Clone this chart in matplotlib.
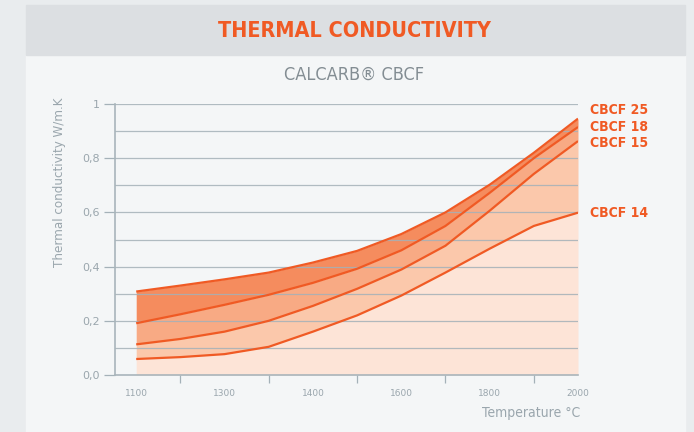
import numpy as np
import matplotlib
matplotlib.use("Agg")
from matplotlib import pyplot as plt
from matplotlib.patches import Rectangle

# temperature labels (drawn equally spaced, as in the source chart)
temp_labels = ['1100', '1300', '1400', '1600', '1800', '2000']
# readings at every half step between labelled temperatures
pos = [0, 0.5, 1, 1.5, 2, 2.5, 3, 3.5, 4, 4.5, 5]
cbcf25 = [0.308, 0.330, 0.353, 0.378, 0.415, 0.458, 0.520, 0.600, 0.702, 0.820, 0.946]
cbcf18 = [0.191, 0.224, 0.259, 0.296, 0.340, 0.392, 0.460, 0.550, 0.672, 0.800, 0.915]
cbcf15 = [0.113, 0.133, 0.160, 0.200, 0.255, 0.318, 0.389, 0.477, 0.606, 0.742, 0.863]
cbcf14 = [0.059, 0.066, 0.077, 0.104, 0.160, 0.220, 0.293, 0.378, 0.466, 0.550, 0.599]
names = ['CBCF 25', 'CBCF 18', 'CBCF 15', 'CBCF 14']

orange = '#f05a24'
fills = ['#f58c5e', '#f8aa84', '#fbc8ab', '#fde4d7']
grey_txt = '#9aa6ad'

if __name__ == '__main__':
    fig = plt.figure(figsize=(6.94, 4.32), dpi=100, facecolor='#e9ecee')

    # panel + title band
    fig.add_artist(Rectangle((26 / 694, 0), (685 - 26) / 694, 1 - 55 / 432,
                             transform=fig.transFigure, color='#f4f6f7', zorder=-10))
    fig.add_artist(Rectangle((26 / 694, 1 - 55 / 432), (685 - 26) / 694, 50 / 432,
                             transform=fig.transFigure, color='#dcdfe2', zorder=-10))
    fig.text(354 / 694, 1 - 31 / 432, 'THERMAL CONDUCTIVITY', ha='center', va='center',
             color=orange, fontsize=15.5, fontweight='bold', fontstretch='condensed',
             family='DejaVu Sans')
    fig.text(354 / 694, 1 - 75 / 432, 'CALCARB® CBCF', ha='center', va='center',
             color='#838d93', fontsize=13, fontstretch='condensed', family='DejaVu Sans')

    ax = fig.add_axes([115 / 694, 1 - 375 / 432, (578 - 115) / 694, (375 - 104) / 432])
    ax.set_facecolor('none')

    x = np.array(pos)
    series = [cbcf25, cbcf18, cbcf15, cbcf14]
    lowers = [cbcf18, cbcf15, cbcf14, [0] * len(pos)]
    for s, lo, c in zip(series, lowers, fills):
        ax.fill_between(x, lo, s, color=c, lw=0, zorder=1)
    for s in series:
        ax.plot(x, s, color=orange, lw=1.6, zorder=3, solid_capstyle='butt',
                solid_joinstyle='round')

    for name, s, dy in zip(names, series, [6, 0, -1, 0]):
        ax.annotate(name, (5, s[-1]), xytext=(9, dy), textcoords='offset points',
                    va='center', ha='left', color=orange, fontsize=10,
                    fontweight='bold', fontstretch='condensed', family='DejaVu Sans',
                    annotation_clip=False)

    ax.set_xlim(-0.24, 5)
    ax.set_ylim(0, 1)

    # grid every 0.1, labels every 0.2
    for v in np.arange(0.1, 1.01, 0.1):
        ax.axhline(v, xmin=0, xmax=1, color='#a4b1b8', lw=0.9, alpha=0.85, zorder=2)
    ax.set_yticks([0, 0.2, 0.4, 0.6, 0.8, 1.0])
    ax.set_yticklabels(['0,0', '0,2', '0,4', '0,6', '0,8', '1'])
    ax.tick_params(axis='y', length=8, width=0.9, color='#a4b1b8', labelsize=8,
                   labelcolor=grey_txt, pad=3)

    ax.set_xticks(range(len(temp_labels)))
    ax.set_xticklabels(temp_labels)
    ax.set_xticks(np.arange(0.5, 5.01, 0.5), minor=True)
    ax.tick_params(axis='x', which='major', length=0, labelsize=6.5,
                   labelcolor=grey_txt, pad=10)
    ax.tick_params(axis='x', which='minor', length=6, width=0.9, color='#a4b1b8')

    for sp in ['top', 'right']:
        ax.spines[sp].set_visible(False)
    for sp in ['left', 'bottom']:
        ax.spines[sp].set_color('#a9b5bb')
        ax.spines[sp].set_linewidth(1.2)

    fig.text(60 / 694, 1 - 182 / 432, 'Thermal conductivity W/m.K', rotation=90,
             ha='center', va='center', color=grey_txt, fontsize=9.5,
             fontstretch='condensed', family='DejaVu Sans')
    fig.text(580 / 694, 1 - 413 / 432, 'Temperature °C', ha='right', va='center',
             color=grey_txt, fontsize=10, fontstretch='condensed', family='DejaVu Sans')

    fig.savefig('out.png', dpi=100, facecolor=fig.get_facecolor())
